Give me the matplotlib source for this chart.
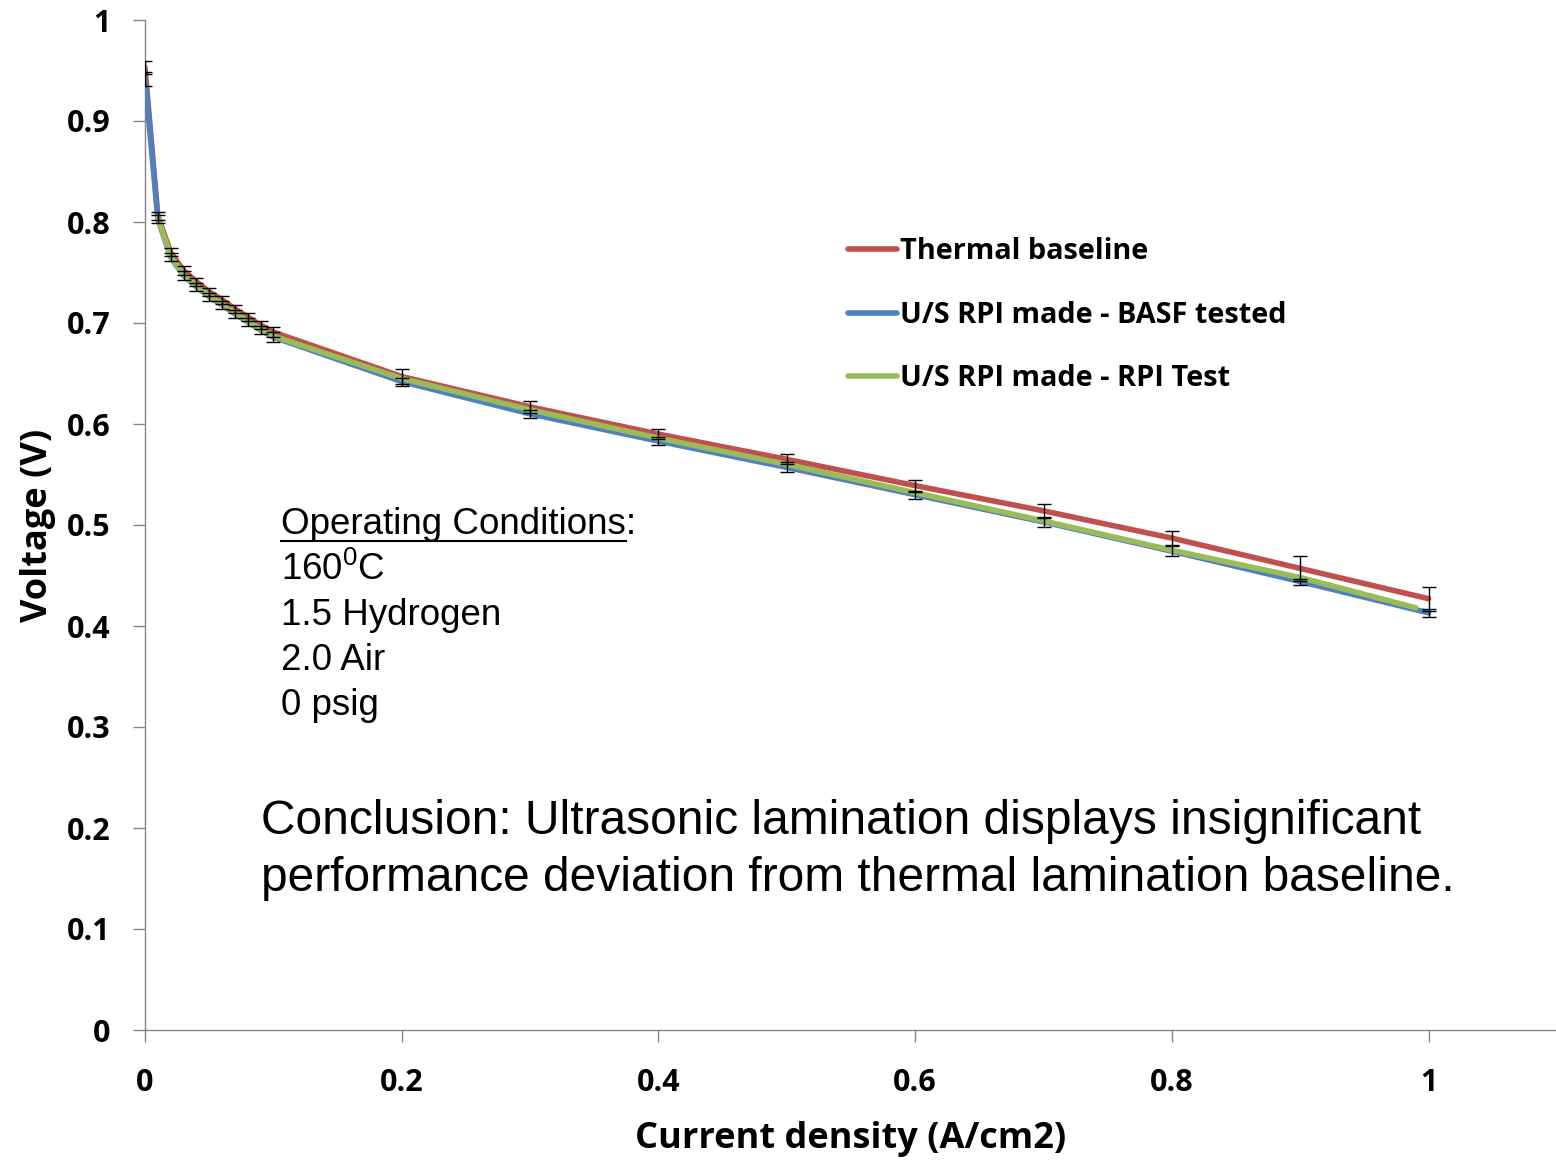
import matplotlib
matplotlib.use("Agg")
import matplotlib.pyplot as plt
from matplotlib.lines import Line2D

# ---------------- data ----------------
x_common = [0.0, 0.01, 0.02, 0.03, 0.04, 0.05, 0.06, 0.07, 0.08, 0.09, 0.10,
            0.2, 0.3, 0.4, 0.5, 0.6, 0.7, 0.8, 0.9, 1.0]
thermal = [0.953, 0.806, 0.770, 0.752, 0.741, 0.731, 0.723, 0.714, 0.706, 0.698, 0.691,
           0.647, 0.617, 0.590, 0.565, 0.539, 0.514, 0.487, 0.457, 0.427]
thermal_err = [0.006, 0.004, 0.004, 0.004, 0.004, 0.004, 0.004, 0.004, 0.004, 0.004, 0.005,
               0.007, 0.006, 0.005, 0.005, 0.006, 0.007, 0.007, 0.012, 0.012]
basf = [0.942, 0.803, 0.765, 0.747, 0.736, 0.726, 0.718, 0.709, 0.701, 0.693, 0.686,
        0.642, 0.610, 0.583, 0.557, 0.530, 0.503, 0.474, 0.444, 0.413]
basf_err = [0.007, 0.004, 0.004, 0.004, 0.004, 0.004, 0.004, 0.004, 0.004, 0.004, 0.005,
            0.004, 0.004, 0.004, 0.005, 0.004, 0.005, 0.005, 0.003, 0.004]
x_rpi = [0.01, 0.02, 0.03, 0.04, 0.05, 0.06, 0.07, 0.08, 0.09, 0.10,
         0.2, 0.3, 0.4, 0.5, 0.6, 0.7, 0.8, 0.9, 0.99]
rpi = [0.804, 0.766, 0.748, 0.737, 0.727, 0.719, 0.710, 0.702, 0.694, 0.687,
       0.645, 0.614, 0.586, 0.560, 0.532, 0.504, 0.475, 0.448, 0.418]

labels = ["Thermal baseline", "U/S RPI made - BASF tested", "U/S RPI made - RPI Test"]
x_ticks = [0, 0.2, 0.4, 0.6, 0.8, 1.0]
x_ticklabels = ["0", "0.2", "0.4", "0.6", "0.8", "1"]
y_ticks = [0, 0.1, 0.2, 0.3, 0.4, 0.5, 0.6, 0.7, 0.8, 0.9, 1.0]
y_ticklabels = ["0", "0.1", "0.2", "0.3", "0.4", "0.5", "0.6", "0.7", "0.8", "0.9", "1"]

# ---------------- figure ----------------
plt.rcParams["mathtext.fontset"] = "custom"
plt.rcParams["mathtext.rm"] = "Liberation Sans"
plt.rcParams["mathtext.it"] = "Liberation Sans:italic"

W, H = 1556, 1161
fig = plt.figure(figsize=(W / 100, H / 100), dpi=100)
ax = fig.add_axes([145 / W, 1 - 1030 / H, (1557 - 145) / W, (1030 - 20) / H])

RED, BLUE, GREEN = "#C0504D", "#4F81BD", "#9BBB59"
LW = 4.0

ax.plot(x_common, thermal, color=RED, lw=LW, solid_capstyle="round", zorder=3, label=labels[0])
ax.plot(x_common, basf, color=BLUE, lw=LW, solid_capstyle="round", zorder=4, label=labels[1])
ax.plot(x_rpi, rpi, color=GREEN, lw=LW, solid_capstyle="round", zorder=5, label=labels[2])
ax.errorbar(x_common, thermal, yerr=thermal_err, fmt="none", ecolor="black",
            elinewidth=1.0, capsize=5, capthick=1.0, zorder=6)
ax.errorbar(x_common, basf, yerr=basf_err, fmt="none", ecolor="black",
            elinewidth=1.0, capsize=5, capthick=1.0, zorder=6)

ax.set_xlim(0, 1.1)
ax.set_ylim(0, 1)
for s in ["top", "right"]:
    ax.spines[s].set_visible(False)
for s in ["left", "bottom"]:
    ax.spines[s].set_color("#868686")
    ax.spines[s].set_linewidth(1.0)

bold_font = dict(family="Open Sans", weight="bold")
ax.set_xticks(x_ticks)
ax.set_xticklabels(x_ticklabels, fontsize=22, **bold_font)
ax.set_yticks(y_ticks)
ax.set_yticklabels(y_ticklabels, fontsize=22, **bold_font)
ax.tick_params(axis="both", direction="out", length=8.6, width=1.0, color="#868686")
ax.tick_params(axis="x", pad=18.5)
ax.tick_params(axis="y", pad=16)

ax.set_xlabel("Current density (A/cm2)", fontsize=26, labelpad=17, **bold_font)
ax.set_ylabel("Voltage (V)", fontsize=26, labelpad=8, **bold_font)

leg = fig.legend(loc="upper left", bbox_to_anchor=(848 / W, 1 - 237 / H),
                 frameon=False, prop=dict(family="Open Sans", weight="bold", size=20.8),
                 handlelength=1.7, handletextpad=0.1, labelspacing=1.2,
                 borderpad=0, borderaxespad=0)

# ---------------- annotations ----------------


def px(xp, yp):
    return xp / W, 1 - yp / H


arial = dict(family="Liberation Sans", fontsize=26.5, color="black")
fig.text(*px(281, 534), "Operating Conditions:", va="baseline", ha="left", **arial)
fig.text(*px(281, 580), "160$^{0}$C", va="baseline", ha="left", **arial)
fig.text(*px(281, 625), "1.5 Hydrogen", va="baseline", ha="left", **arial)
fig.text(*px(281, 670), "2.0 Air", va="baseline", ha="left", **arial)
fig.text(*px(281, 715), "0 psig", va="baseline", ha="left", **arial)

# underline for "Operating Conditions"
fig.canvas.draw()
renderer = fig.canvas.get_renderer()
tmp = fig.text(*px(281, 534), "Operating Conditions", va="baseline", ha="left", alpha=0, **arial)
bb = tmp.get_window_extent(renderer)
tmp.remove()
yline = 1 - 541 / H
fig.add_artist(Line2D([bb.x0 / W, bb.x1 / W], [yline, yline], color="black", lw=1.5))

concl = dict(family="Liberation Sans", fontsize=34.5, color="black")
fig.text(*px(261, 834), "Conclusion: Ultrasonic lamination displays insignificant",
         va="baseline", ha="left", **concl)
fig.text(*px(261, 891), "performance deviation from thermal lamination baseline.",
         va="baseline", ha="left", **concl)

fig.savefig("out.png", dpi=100)
